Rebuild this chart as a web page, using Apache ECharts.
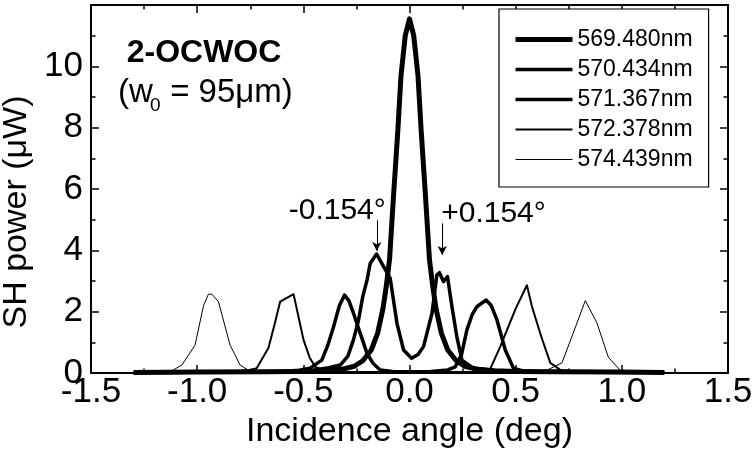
<!DOCTYPE html>
<html>
<head>
<meta charset="utf-8">
<script src="https://cdn.jsdelivr.net/npm/echarts@6/dist/echarts.min.js"></script>
<style>
  html, body { margin: 0; padding: 0; background: #fff; }
  #chart { width: 752px; height: 459px; }
</style>
</head>
<body>
<div id="chart"></div>
<script>
// SH power vs. incidence angle for five fundamental wavelengths
const FONT = '"Liberation Sans", Arial, Helvetica, sans-serif';

const wavelengths = ['569.480nm', '570.434nm', '571.367nm', '572.378nm', '574.439nm'];

const angle569 = [-1.3, -1.0, -0.7, -0.5, -0.4, -0.32, -0.26, -0.22, -0.18, -0.15, -0.125, -0.11, -0.094, -0.075, -0.055, -0.04, -0.02, 0.0, 0.02, 0.04, 0.055, 0.075, 0.094, 0.11, 0.125, 0.15, 0.18, 0.22, 0.26, 0.32, 0.4, 0.5, 0.7, 1.0, 1.2];
const power569 = [0.02, 0.03, 0.04, 0.05, 0.07, 0.12, 0.22, 0.4, 0.75, 1.3, 2.1, 2.8, 3.7, 5.8, 7.9, 9.7, 11.0, 11.55, 11.0, 9.7, 7.9, 5.8, 3.7, 2.8, 2.1, 1.3, 0.75, 0.4, 0.22, 0.12, 0.07, 0.05, 0.04, 0.03, 0.02];

const angle570 = [-1.2, -0.8, -0.55, -0.45, -0.38, -0.326, -0.29, -0.264, -0.24, -0.22, -0.2, -0.185, -0.155, -0.122, -0.091, -0.059, -0.028, 0.01, 0.04, 0.066, 0.106, 0.129, 0.141, 0.16, 0.179, 0.2, 0.223, 0.247, 0.3, 0.4, 0.6, 1.0, 1.2];
const power570 = [0.02, 0.03, 0.05, 0.1, 0.17, 0.26, 0.55, 1.08, 1.73, 2.5, 3.03, 3.58, 3.88, 3.47, 3.09, 1.62, 0.75, 0.48, 0.6, 0.86, 1.95, 3.2, 3.27, 2.98, 3.14, 2.16, 1.18, 0.42, 0.16, 0.08, 0.04, 0.03, 0.02];

const angle571 = [-1.2, -0.8, -0.6, -0.52, -0.468, -0.413, -0.385, -0.358, -0.33, -0.306, -0.285, -0.264, -0.23, -0.2, -0.17, -0.138, -0.08, 0.0, 0.1, 0.18, 0.215, 0.245, 0.27, 0.295, 0.317, 0.361, 0.385, 0.412, 0.451, 0.49, 0.55, 0.7, 1.0, 1.2];
const power571 = [0.02, 0.03, 0.05, 0.09, 0.16, 0.42, 0.9, 1.5, 2.2, 2.54, 2.35, 1.95, 1.25, 0.64, 0.3, 0.1, 0.05, 0.04, 0.05, 0.1, 0.2, 0.6, 1.4, 1.9, 2.16, 2.38, 2.2, 1.73, 0.75, 0.15, 0.04, 0.03, 0.02, 0.02];

const angle572 = [-1.3, -1.0, -0.85, -0.75, -0.719, -0.664, -0.635, -0.609, -0.546, -0.499, -0.47, -0.444, -0.406, -0.3, -0.1, 0.1, 0.3, 0.378, 0.427, 0.5, 0.553, 0.577, 0.62, 0.663, 0.71, 0.8, 1.0, 1.2];
const power572 = [0.01, 0.02, 0.04, 0.1, 0.16, 0.82, 1.6, 2.33, 2.57, 1.08, 0.5, 0.2, 0.1, 0.04, 0.03, 0.03, 0.04, 0.1, 0.85, 2.1, 2.86, 2.16, 1.2, 0.33, 0.1, 0.04, 0.02, 0.01];

const angle574 = [-1.3, -1.2, -1.127, -1.072, -1.01, -0.97, -0.947, -0.931, -0.9, -0.845, -0.798, -0.75, -0.6, 0.0, 0.55, 0.629, 0.718, 0.771, 0.828, 0.883, 0.936, 1.0, 1.1, 1.2];
const power574 = [0.01, 0.02, 0.04, 0.26, 0.91, 2.2, 2.57, 2.57, 2.33, 0.91, 0.26, 0.05, 0.02, 0.02, 0.02, 0.03, 0.33, 1.3, 2.36, 1.63, 0.52, 0.03, 0.02, 0.01];

// Phase-matching offsets marked with arrows on the 570.434nm curve
const markedAngles = [-0.154, 0.154];
const arrowTop = [4.98, 4.88];
const arrowTip = [3.98, 3.85];

const curves = [
  [angle569, power569],
  [angle570, power570],
  [angle571, power571],
  [angle572, power572],
  [angle574, power574]
];
const widths = [5, 3.5, 3.5, 2, 1];

function pairs(xs, ys) { return xs.map((x, i) => [x, ys[i]]); }

const series = curves.map((c, i) => ({
  name: wavelengths[i],
  type: 'line',
  data: pairs(c[0], c[1]),
  symbol: 'none',
  smooth: false,
  animation: false,
  lineStyle: { color: '#000', width: widths[i], join: 'round' },
  itemStyle: { color: '#000' },
  z: 10 - i
}));

series[1].markLine = {
  silent: true,
  symbol: ['none', 'arrow'],
  symbolSize: [7, 9],
  label: { show: false },
  lineStyle: { color: '#000', width: 1, type: 'solid' },
  data: markedAngles.map((a, i) => [{ coord: [a, arrowTop[i]] }, { coord: [a, arrowTip[i]] }])
};

const axisText = { fontFamily: FONT, color: '#000', fontSize: 35 };
const tickStyle = { color: '#000', width: 1.5 };

function frameAxis(extra) {
  return Object.assign({
    type: 'value',
    axisLine: { show: true, onZero: false, lineStyle: { color: '#000', width: 2 } },
    axisTick: { show: true, inside: true, length: 8, lineStyle: tickStyle },
    minorTick: { show: true, splitNumber: 2, length: 4.5, lineStyle: tickStyle },
    splitLine: { show: false }
  }, extra);
}

const chart = echarts.init(document.getElementById('chart'));
chart.setOption({
  animation: false,
  backgroundColor: '#fff',
  grid: { left: 91, right: 24, top: 5, bottom: 86, containLabel: false, outerBoundsMode: 'none' },
  legend: {
    data: wavelengths,
    orient: 'vertical',
    left: 499,
    top: 9,
    padding: [19, 16, 16, 14],
    itemWidth: 57,
    itemHeight: 14,
    itemGap: 7,
    borderColor: '#000',
    borderWidth: 1.2,
    backgroundColor: '#fff',
    lineStyle: { width: 'inherit' },
    itemStyle: { opacity: 0 },
    textStyle: { fontFamily: FONT, fontSize: 23, color: '#000', lineHeight: 22 }
  },
  xAxis: [
    frameAxis({
      min: -1.5, max: 1.5, interval: 0.5,
      name: 'Incidence angle (deg)', nameLocation: 'middle', nameGap: 40,
      nameTextStyle: { fontFamily: FONT, fontSize: 34, color: '#000' },
      axisLabel: Object.assign({
        margin: 2, alignMinLabel: 'center', alignMaxLabel: 'center',
        formatter: v => v.toFixed(1)
      }, axisText)
    }),
    frameAxis({ min: -1.5, max: 1.5, interval: 0.5, position: 'top', axisLabel: { show: false } })
  ],
  yAxis: [
    frameAxis({
      min: 0, max: 12, interval: 2,
      name: 'SH power (\u03BCW)', nameLocation: 'middle', nameGap: 54, nameRotate: 90,
      nameTextStyle: { fontFamily: FONT, fontSize: 34, color: '#000', padding: [0, 46, 0, 0] },
      axisLabel: Object.assign({ margin: 8, formatter: v => (v === 12 ? '' : String(v)) }, axisText)
    }),
    frameAxis({ min: 0, max: 12, interval: 2, position: 'right', axisLabel: { show: false } })
  ],
  series: series
});

// Angle annotations placed beside their arrows
const angleLabels = markedAngles.map(a => (a > 0 ? '+' : '') + a.toFixed(3) + '\u00B0');
const elements = markedAngles.map((a, i) => {
  const p = chart.convertToPixel({ xAxisIndex: 0, yAxisIndex: 0 }, [a, arrowTop[i]]);
  const left = a < 0;
  return {
    type: 'text',
    x: left ? p[0] + 9 : p[0] - 1,
    y: p[1] - 10,
    style: {
      text: angleLabels[i], fontFamily: FONT, fontSize: 30, fill: '#000',
      align: left ? 'right' : 'left', verticalAlign: 'middle'
    },
    z: 100
  };
});

elements.push(
  { type: 'text', x: 204, y: 53, z: 100,
    style: { text: '2-OCWOC', fontFamily: FONT, fontSize: 32, fontWeight: 'bold', fill: '#000', align: 'center', verticalAlign: 'middle' } },
  { type: 'text', x: 118, y: 93, z: 100,
    style: { text: '(w', fontFamily: FONT, fontSize: 33, fill: '#000', align: 'left', verticalAlign: 'middle' } },
  { type: 'text', x: 150, y: 106, z: 100,
    style: { text: '0', fontFamily: FONT, fontSize: 19, fill: '#000', align: 'left', verticalAlign: 'middle' } },
  { type: 'text', x: 161, y: 93, z: 100,
    style: { text: ' = 95\u03BCm)', fontFamily: FONT, fontSize: 33, fill: '#000', align: 'left', verticalAlign: 'middle' } }
);

chart.setOption({ graphic: { elements: elements } });
</script>
</body>
</html>
